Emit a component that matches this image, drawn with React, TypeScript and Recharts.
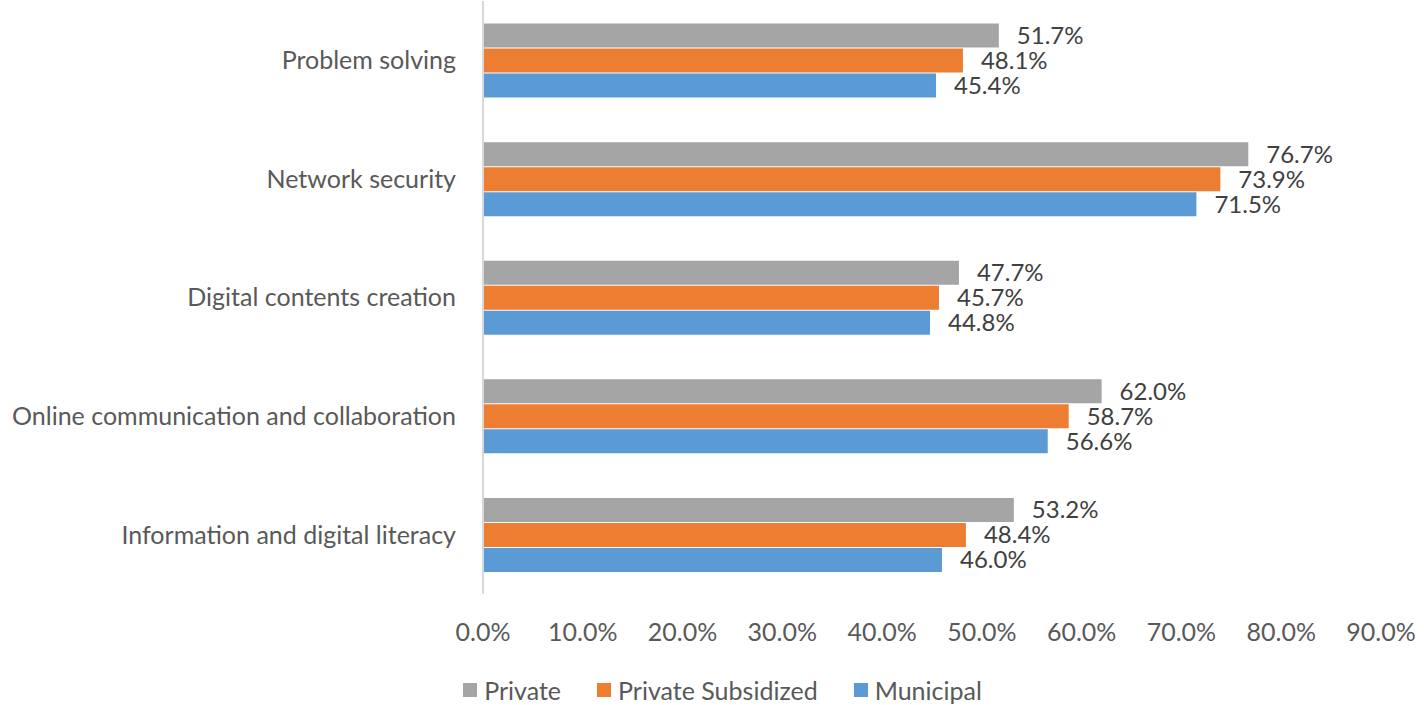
import React from 'react';
import { BarChart, Bar, XAxis, YAxis, Legend, LabelList } from 'recharts';

const categories = [
  'Problem solving',
  'Network security',
  'Digital contents creation',
  'Online communication and collaboration',
  'Information and digital literacy',
];
const privateVals = [51.7, 76.7, 47.7, 62.0, 53.2];
const subsidizedVals = [48.1, 73.9, 45.7, 58.7, 48.4];
const municipalVals = [45.4, 71.5, 44.8, 56.6, 46.0];
const xTicks = [0, 10, 20, 30, 40, 50, 60, 70, 80, 90];

const series = [
  { key: 'private', name: 'Private', color: '#A5A5A5' },
  { key: 'subsidized', name: 'Private Subsidized', color: '#ED7D31' },
  { key: 'municipal', name: 'Municipal', color: '#5B9BD5' },
];

const data = categories.map((name, i) => ({
  name,
  private: privateVals[i],
  subsidized: subsidizedVals[i],
  municipal: municipalVals[i],
}));

const FONT = 'Lato, "DejaVu Sans", sans-serif';
const fmt = (v: number) => `${v.toFixed(1)}%`;

// legend sits a little right of the chart centre in the original
const LegendContent = () => (
  <div style={{ display: 'flex', justifyContent: 'center', alignItems: 'center', height: 30, paddingLeft: 64, fontFamily: FONT, fontSize: 25, color: '#595959' }}>
    {series.map((s) => (
      <div key={s.key} style={{ display: 'flex', alignItems: 'center', margin: '0 18px' }}>
        <span style={{ width: 14, height: 14, background: s.color, display: 'inline-block', marginRight: 7 }} />
        <span>{s.name}</span>
      </div>
    ))}
  </div>
);

export default function App() {
  return (
    <div style={{ position: 'absolute', left: 0, top: 0 }}>
      <BarChart
        width={1424}
        height={705}
        data={data}
        layout="vertical"
        margin={{ top: 1, right: 43, bottom: 0, left: 0 }}
        barCategoryGap="19%"
        barGap={1}
      >
        <XAxis
          type="number"
          domain={[0, 90]}
          ticks={xTicks}
          tickFormatter={fmt}
          axisLine={false}
          tickLine={false}
          tickSize={0}
          tickMargin={29}
          height={81}
          tick={{ fill: '#595959', fontSize: 25, fontFamily: FONT }}
          interval={0}
        />
        <YAxis
          type="category"
          dataKey="name"
          width={483}
          axisLine={{ stroke: '#D9D9D9', strokeWidth: 2 }}
          tickLine={false}
          tickSize={0}
          tickMargin={27}
          tick={{ fill: '#595959', fontSize: 25, fontFamily: FONT }}
        />
        <Legend verticalAlign="bottom" content={<LegendContent />} />
        {series.map((s) => (
          <Bar key={s.key} dataKey={s.key} name={s.name} fill={s.color} isAnimationActive={false}>
            <LabelList
              dataKey={s.key}
              position="right"
              offset={18}
              formatter={(v: any) => fmt(Number(v))}
              style={{ fill: '#404040', fontSize: 24, fontFamily: FONT }}
            />
          </Bar>
        ))}
      </BarChart>
    </div>
  );
}
